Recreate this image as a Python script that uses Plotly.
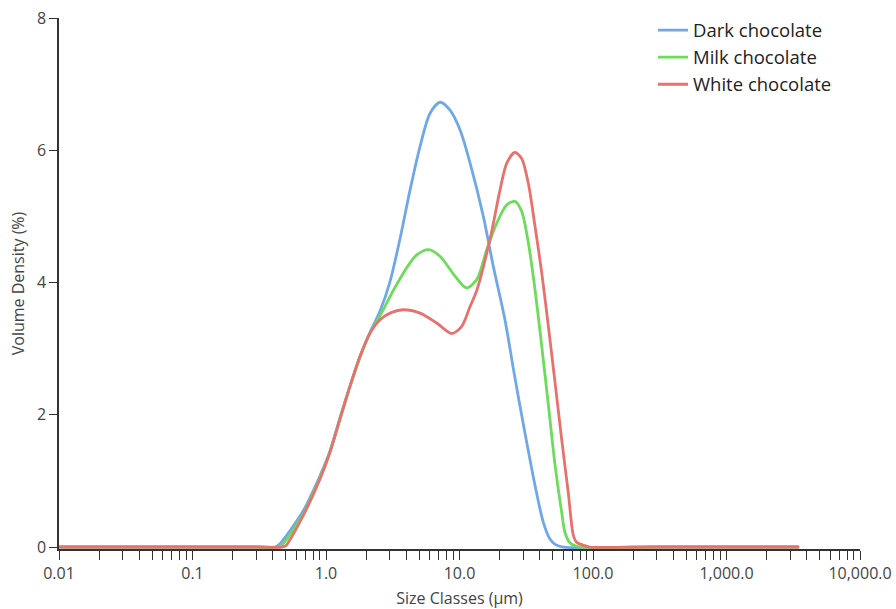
import plotly.graph_objects as go

# ---- data ----
dark_x = [0.01, 0.1, 0.3, 0.415, 0.452, 0.676, 0.902, 1.07, 1.27, 1.51, 1.80, 2.14, 2.54, 3.02, 3.58, 4.26, 5.06, 6.01, 7.14, 8.49, 10.1, 12.0, 15.1, 17.9, 21.9, 25.6, 30.9, 36.8, 42.5, 47.6, 52.0, 60.0, 300.0, 3500.0]
dark_y = [0.0, 0.0, 0.0, 0.0, 0.05, 0.55, 1.08, 1.45, 1.95, 2.43, 2.88, 3.25, 3.57, 4.02, 4.66, 5.40, 6.06, 6.56, 6.73, 6.61, 6.31, 5.81, 5.00, 4.25, 3.44, 2.64, 1.73, 0.93, 0.37, 0.12, 0.04, 0.0, 0.0, 0.0]

milk_x = [0.01, 0.1, 0.3, 0.445, 0.47, 0.676, 0.902, 1.07, 1.27, 1.51, 1.80, 2.14, 2.54, 3.29, 4.26, 4.78, 5.84, 7.14, 9.25, 11.3, 13.5, 16.0, 19.0, 22.6, 26.0, 29.2, 32.8, 36.8, 41.3, 46.3, 51.9, 58.3, 61.7, 67.3, 73.3, 80.0, 300.0, 3500.0]
milk_y = [0.0, 0.0, 0.0, 0.0, 0.03, 0.50, 1.05, 1.44, 1.93, 2.42, 2.88, 3.24, 3.50, 3.93, 4.30, 4.42, 4.50, 4.40, 4.10, 3.92, 4.05, 4.50, 4.90, 5.18, 5.23, 5.08, 4.60, 3.89, 3.04, 2.15, 1.25, 0.52, 0.22, 0.06, 0.02, 0.0, 0.0, 0.0]

white_x = [0.01, 0.1, 0.3, 0.47, 0.50, 0.676, 0.902, 1.07, 1.27, 1.51, 1.80, 2.14, 2.54, 3.1, 3.79, 5.06, 6.75, 8.74, 10.4, 12.0, 13.5, 16.9, 20.1, 22.6, 26.0, 29.2, 32.8, 36.8, 41.3, 46.3, 51.9, 58.3, 65.3, 71.2, 75.5, 87.0, 95.0, 300.0, 3500.0]
white_y = [0.0, 0.0, 0.0, 0.0, 0.02, 0.48, 1.03, 1.43, 1.93, 2.43, 2.89, 3.24, 3.44, 3.55, 3.59, 3.54, 3.39, 3.23, 3.34, 3.64, 3.89, 4.65, 5.40, 5.81, 5.97, 5.88, 5.50, 4.85, 4.15, 3.34, 2.50, 1.62, 0.82, 0.18, 0.07, 0.02, 0.0, 0.0, 0.0]

series_names = ["Dark chocolate", "Milk chocolate", "White chocolate"]
series_colors = ["#6fa8e8", "#6cdc5a", "#e8716e"]

x_major = [0.01, 0.1, 1.0, 10.0, 100.0, 1000.0, 10000.0]
x_major_labels = ["0.01", "0.1", "1.0", "10.0", "100.0", "1,000.0", "10,000.0"]
y_ticks = [0, 2, 4, 6, 8]

# all tick positions (major + minor 2..9 per decade)
tick_vals, tick_text = [], []
for i, m in enumerate(x_major):
    tick_vals.append(m)
    tick_text.append(x_major_labels[i])
    if i < len(x_major) - 1:
        for k in range(2, 10):
            tick_vals.append(m * k)
            tick_text.append("")

fig = go.Figure()
for xs, ys, name, col in zip([dark_x, milk_x, white_x], [dark_y, milk_y, white_y], series_names, series_colors):
    fig.add_trace(go.Scatter(x=xs, y=ys, mode="lines", name=name,
                             line=dict(color=col, width=2.8, shape="spline", smoothing=0.8)))

fig.update_layout(
    width=896, height=609,
    margin=dict(l=59, r=36, t=18, b=60, autoexpand=False),
    plot_bgcolor="white", paper_bgcolor="white",
    font=dict(family="Open Sans, Noto Sans, sans-serif", color="#444444", size=16),
    showlegend=True,
    legend=dict(x=0.7416, y=1.012, xanchor="left", yanchor="top",
                font=dict(size=18.5, color="#222222"), bgcolor="rgba(0,0,0,0)",
                itemwidth=30, tracegroupgap=0),
    xaxis=dict(type="log", range=[-2, 4], tickvals=tick_vals, ticktext=tick_text,
               ticks="outside", ticklen=9, tickcolor="#333333", tickwidth=1.3,
               showline=True, linecolor="#333333", linewidth=1.5,
               showgrid=False, zeroline=False, automargin=False,
               tickfont=dict(size=16, color="#444444"),
               title=dict(text="Size Classes (µm)", font=dict(size=16, color="#444444"), standoff=10)),
    yaxis=dict(range=[-0.03, 8.005], tickvals=y_ticks,
               ticks="outside", ticklen=8, tickcolor="#333333", tickwidth=1.3,
               showline=True, linecolor="#333333", linewidth=1.5,
               showgrid=False, zeroline=False, automargin=False,
               tickfont=dict(size=16, color="#444444"),
               title=dict(text="Volume Density (%)", font=dict(size=16, color="#444444"), standoff=8)),
)

# remove the default page margin so the figure fills the window exactly
fig.write_html("out.html", config={"displayModeBar": False},
               post_script="document.body.style.margin='0';document.body.style.overflow='hidden';")
